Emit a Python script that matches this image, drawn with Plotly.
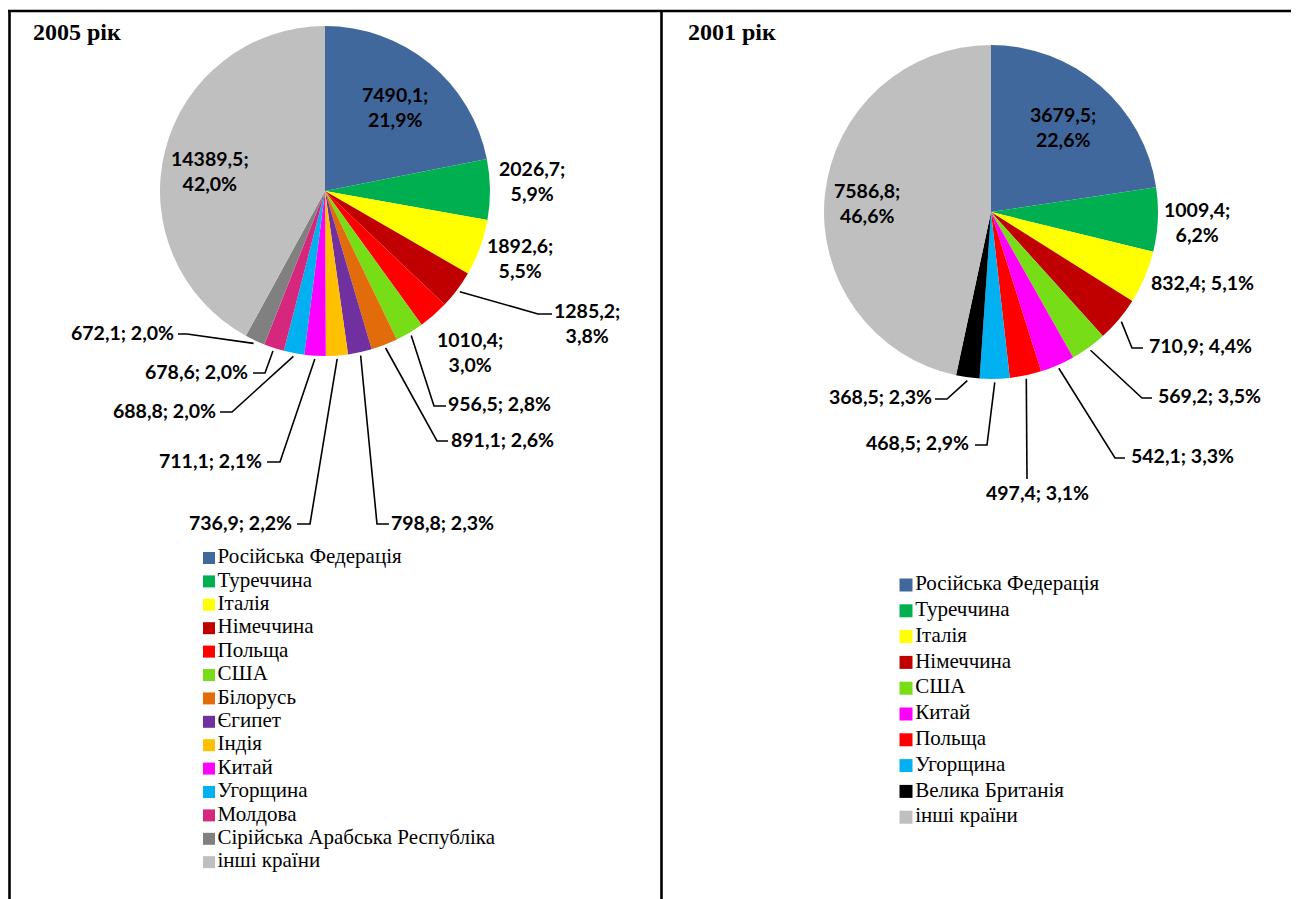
import math
import plotly.graph_objects as go

W, H = 1297, 899

# ---------------- data ----------------
countries_2005 = ["Російська Федерація", "Туреччина", "Італія", "Німеччина", "Польща",
                  "США", "Білорусь", "Єгипет", "Індія", "Китай", "Угорщина",
                  "Молдова", "Сірійська Арабська Республіка", "інші країни"]
values_2005 = [7490.1, 2026.7, 1892.6, 1285.2, 1010.4, 956.5, 891.1, 798.8,
               736.9, 711.1, 688.8, 678.6, 672.1, 14389.5]

countries_2001 = ["Російська Федерація", "Туреччина", "Італія", "Німеччина", "США",
                  "Китай", "Польща", "Угорщина", "Велика Британія", "інші країни"]
values_2001 = [3679.5, 1009.4, 832.4, 710.9, 569.2, 542.1, 497.4, 468.5, 368.5, 7586.8]

country_colors = {
    "Російська Федерація": "#41689C",
    "Туреччина": "#00B050",
    "Італія": "#FFFF00",
    "Німеччина": "#C00000",
    "Польща": "#FF0000",
    "США": "#77DD17",
    "Білорусь": "#E36C0A",
    "Єгипет": "#7030A0",
    "Індія": "#FFC000",
    "Китай": "#FF00FF",
    "Угорщина": "#00B0F0",
    "Молдова": "#D5287C",
    "Сірійська Арабська Республіка": "#808080",
    "Велика Британія": "#000000",
    "інші країни": "#BFBFBF",
}

# ---------------- layout config (pixels) ----------------
PIE_2005 = dict(cx=325, cy=191, r=165)
PIE_2001 = dict(cx=991, cy=212, r=167)

# label placement: (text centre x, text centre y, two-line?, leader points after slice edge)
labels_2005 = [
    (395, 107, True, None),
    (532, 181, True, None),
    (520, 258, True, None),
    (587, 323, True, [(538, 314), (552, 314)]),
    (470, 352, True, None),
    (500, 404, False, [(434, 406), (446, 406)]),
    (502, 439, False, [(437, 441), (448, 441)]),
    (442, 522, False, [(377, 524), (389, 524)]),
    (240, 522, False, [(310, 524), (297, 524)]),
    (210, 460, False, [(280, 462), (267, 462)]),
    (164, 410, False, [(232, 412), (220, 412)]),
    (196, 371, False, [(265, 373), (253, 373)]),
    (122, 332, False, [(187, 334), (178, 334)]),
    (210, 171, True, None),
]
labels_2001 = [
    (1063, 127, True, None),
    (1197, 222, True, None),
    (1202, 282, False, None),
    (1200, 345, False, [(1132, 348), (1143, 348)]),
    (1209, 395, False, [(1142, 398), (1152, 398)]),
    (1182, 455, False, [(1115, 458), (1125, 458)]),
    (1037, 492, False, [(1027, 479)]),
    (917, 442, False, [(987, 445), (975, 445)]),
    (880, 396, False, [(947, 399), (935, 399)]),
    (867, 203, True, None),
]

LEG_2005 = dict(x=209, first=558, step=23.4, size=12)
LEG_2001 = dict(x=906, first=585, step=25.8, size=13)

LABEL_FONT = dict(family="Lato", size=19.5, color="black", weight="bold")
LEGEND_FONT = dict(family="Liberation Serif", size=21, color="black")
TITLE_FONT = dict(family="Liberation Serif", size=24, color="black", weight="bold")


def px(x):
    return x / W


def py(y):
    return 1 - y / H


def fmt(v):
    return f"{v:.1f}".replace(".", ",")


fig = go.Figure()
annotations = []
shapes = []


def add_pie(countries, values, geo, labels):
    cx, cy, r = geo["cx"], geo["cy"], geo["r"]
    fig.add_trace(go.Pie(
        labels=countries, values=values, sort=False, direction="clockwise",
        rotation=0, textinfo="none", hoverinfo="label+value+percent",
        marker=dict(colors=[country_colors[c] for c in countries], line=dict(width=0)),
        domain=dict(x=[px(cx - r), px(cx + r)], y=[py(cy + r), py(cy - r)]),
        showlegend=False,
    ))
    total = sum(values)
    cum = 0.0
    for v, (lx, ly, two, leader) in zip(values, labels):
        pct = f"{100 * v / total:.1f}".replace(".", ",") + "%"
        sep = ";<br>" if two else "; "
        annotations.append(dict(
            x=px(lx), y=py(ly), xref="paper", yref="paper", text=fmt(v) + sep + pct,
            showarrow=False, xanchor="center", yanchor="middle", font=LABEL_FONT,
        ))
        mid = math.radians(360 * (cum + v / 2) / total)
        cum += v
        if leader:
            sx = cx + 1.02 * r * math.sin(mid)
            sy = cy - 1.02 * r * math.cos(mid)
            pts = [(sx, sy)] + leader
            path = "M " + " L ".join(f"{px(a):.5f},{py(b):.5f}" for a, b in pts)
            shapes.append(dict(type="path", path=path, xref="paper", yref="paper",
                               line=dict(color="black", width=1.6)))


add_pie(countries_2005, values_2005, PIE_2005, labels_2005)
add_pie(countries_2001, values_2001, PIE_2001, labels_2001)


def add_legend(countries, leg, xa, ya):
    n = len(countries)
    top = leg["first"] - leg["step"] / 2
    bottom = top + n * leg["step"]
    fig.add_trace(go.Scatter(
        x=[0] * n, y=list(range(n)), mode="markers+text", text=countries,
        textposition="middle right", textfont=LEGEND_FONT,
        marker=dict(symbol="square", size=leg["size"],
                    color=[country_colors[c] for c in countries], line=dict(width=0)),
        xaxis=xa, yaxis=ya, hoverinfo="skip", showlegend=False, cliponaxis=False,
    ))
    ax = dict(domain=[px(leg["x"]), px(leg["x"] + 300)], range=[0, 1], visible=False,
              fixedrange=True)
    ay = dict(domain=[py(bottom), py(top)], range=[n - 0.5, -0.5], visible=False,
              fixedrange=True)
    return ax, ay


ax1, ay1 = add_legend(countries_2005, LEG_2005, "x", "y")
ax2, ay2 = add_legend(countries_2001, LEG_2001, "x2", "y2")
ax2["anchor"] = "y2"
ay2["anchor"] = "x2"

# titles
annotations.append(dict(x=px(31), y=py(32), xref="paper", yref="paper", text="2005 рік",
                        showarrow=False, xanchor="left", yanchor="middle", font=TITLE_FONT))
annotations.append(dict(x=px(686), y=py(32), xref="paper", yref="paper", text="2001 рік",
                        showarrow=False, xanchor="left", yanchor="middle", font=TITLE_FONT))

# frame
frame = dict(color="black", width=2.6)
shapes += [
    dict(type="line", xref="paper", yref="paper", x0=px(8), x1=px(1291), y0=py(11), y1=py(11), line=frame),
    dict(type="line", xref="paper", yref="paper", x0=px(9.5), x1=px(9.5), y0=py(11), y1=py(899), line=frame),
    dict(type="line", xref="paper", yref="paper", x0=px(661.5), x1=px(661.5), y0=py(11), y1=py(899), line=frame),
]

fig.update_layout(
    width=W, height=H, margin=dict(l=0, r=0, t=0, b=0),
    paper_bgcolor="white", plot_bgcolor="rgba(0,0,0,0)",
    xaxis=ax1, yaxis=ay1, xaxis2=ax2, yaxis2=ay2,
    annotations=annotations, shapes=shapes, showlegend=False,
)

fig.write_html("out.html", config={"displayModeBar": False},
               post_script="document.body.style.margin='0';document.body.style.overflow='hidden';")
